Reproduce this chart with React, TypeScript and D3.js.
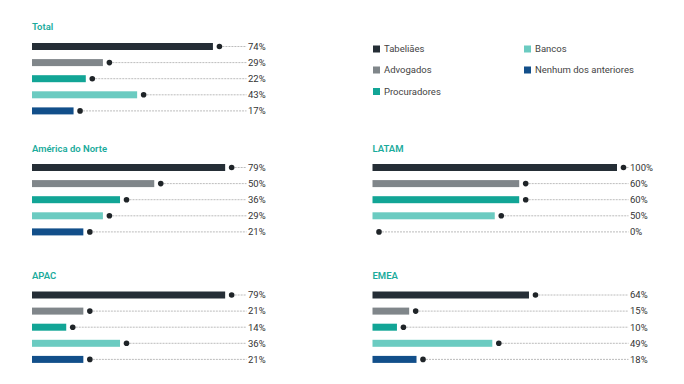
import React from "react";
import * as d3 from "d3";

const categories = ["Tabeliães", "Advogados", "Procuradores", "Bancos", "Nenhum dos anteriores"];
const colors = ["#252e36", "#80868a", "#12a596", "#6bcbc1", "#124f8a"];

const total = [74, 29, 22, 43, 17];
const northAmerica = [79, 50, 36, 29, 21];
const latam = [100, 60, 60, 50, 0];
const apac = [79, 21, 14, 36, 21];
const emea = [64, 15, 10, 49, 18];

const panels = [
  { title: "Total", values: total, x0: 32, labelX: 248, titleY: 27, rowY0: 46.5 },
  { title: "América do Norte", values: northAmerica, x0: 32, labelX: 248, titleY: 148.5, rowY0: 167.5 },
  { title: "LATAM", values: latam, x0: 372.5, labelX: 630, titleY: 148.5, rowY0: 167.5 },
  { title: "APAC", values: apac, x0: 32, labelX: 248, titleY: 275.5, rowY0: 295 },
  { title: "EMEA", values: emea, x0: 372.5, labelX: 630, titleY: 275.5, rowY0: 295 },
];

const FONT = "Roboto, 'Noto Sans', sans-serif";

export default function App() {
  const x = d3.scaleLinear().domain([0, 100]).range([0, 244.5]);
  const rowStep = 16.1;
  const barH = 7;
  const legendPos = [
    { x: 373, y: 49 },
    { x: 373, y: 70 },
    { x: 373, y: 91.5 },
    { x: 524, y: 49 },
    { x: 524, y: 70 },
  ];
  return (
    <svg
      width={684}
      height={384}
      style={{ position: "absolute", left: 0, top: 0, background: "#fff" }}
      fontFamily={FONT}
    >
      <rect width={684} height={384} fill="#fff" />
      {panels.map((p) => (
        <g key={p.title}>
          <text x={p.x0} y={p.titleY} dy="0.35em" fontSize={9.5} fontWeight={600} fill="#1bab9c">
            {p.title}
          </text>
          {p.values.map((v, i) => {
            const cy = p.rowY0 + i * rowStep;
            const end = p.x0 + x(v);
            const dotX = end + 6.5;
            return (
              <g key={i}>
                {v > 0 && (
                  <rect x={p.x0} y={cy - barH / 2} width={x(v)} height={barH} fill={colors[i]} />
                )}
                <line
                  x1={dotX}
                  x2={p.labelX - 1.5}
                  y1={cy}
                  y2={cy}
                  stroke="#ababab"
                  strokeWidth={0.8}
                  strokeDasharray="2,1"
                />
                <circle cx={dotX} cy={cy} r={2.8} fill="#1f2428" />
                <text x={p.labelX} y={cy} dy="0.35em" fontSize={9.5} fill="#333">
                  {v}%
                </text>
              </g>
            );
          })}
        </g>
      ))}
      {categories.map((c, i) => (
        <g key={c}>
          <rect x={legendPos[i].x} y={legendPos[i].y - 3.5} width={7} height={7} fill={colors[i]} />
          <text x={legendPos[i].x + 11} y={legendPos[i].y} dy="0.35em" fontSize={9.5} fill="#444">
            {c}
          </text>
        </g>
      ))}
    </svg>
  );
}
